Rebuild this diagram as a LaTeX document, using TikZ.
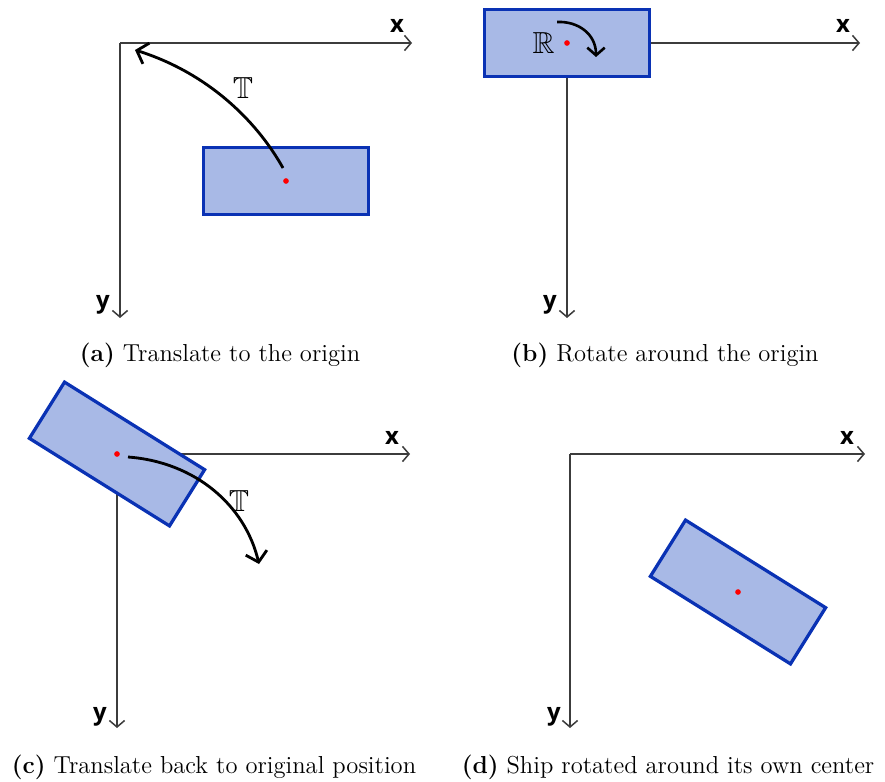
\documentclass[tikz,border=0pt]{standalone}
\usepackage{amsmath}
\usepackage{amssymb}
\usepackage{fontspec}
\setsansfont{Open Sans}
\usepackage{xcolor}
\usetikzlibrary{arrows.meta, positioning}
\definecolor{shipfill}{RGB}{168,185,230}
\definecolor{shipedge}{RGB}{10,50,180}
\definecolor{axisgray}{RGB}{60,60,60}

\begin{document}
\begin{tikzpicture}[x=0.46pt, y=-0.46pt,
    axis/.style={draw=axisgray, line width=0.7pt, -{Straight Barb[length=3pt, width=7pt]}},
    axlabel/.style={font=\sffamily\bfseries\fontsize{11}{13}\selectfont, inner sep=0pt},
    ship/.style={rectangle, draw=shipedge, fill=shipfill, line width=1.5pt, minimum width=76pt, minimum height=30.5pt, inner sep=0pt},
    pivot/.style={circle, fill=red, inner sep=0pt, minimum size=2.6pt},
    move/.style={draw=black, line width=1.3pt, -{Straight Barb[length=4.5pt, width=10pt]}},
    oplabel/.style={font=\fontsize{14}{16}\selectfont, inner sep=0pt},
    caption/.style={font=\fontsize{11.3}{13}\selectfont, inner sep=0pt}
]
    \useasboundingbox (0,0) rectangle (885,781);

    % (a) Translate to the origin
    \coordinate (OA) at (120,43);
    \coordinate (XA) at (412,43);
    \coordinate (YA) at (120,318);
    \draw[axis] (OA) -- (XA);
    \draw[axis] (OA) -- (YA);
    \node[axlabel] (LXA) at (397,26) {x};
    \node[axlabel] (LYA) at (103,305) {y};
    \node[ship] (SHIPA) at (286,181) {};
    \node[pivot] (CA) at (SHIPA.center) {};
    \coordinate (TA1) at (283,168);
    \coordinate (TA2) at (135,50);
    \draw[move] (TA1) .. controls (255,118) and (205,72) .. (TA2);
    \node[oplabel] (TLA) at (243,88) {$\mathbb{T}$};
    \node[caption] (CAPA) at (220,355) {\textbf{(a)} Translate to the origin};

    % (b) Rotate around the origin
    \coordinate (OB) at (567,43);
    \coordinate (XB) at (860,43);
    \coordinate (YB) at (567,318);
    \draw[axis] (OB) -- (XB);
    \draw[axis] (OB) -- (YB);
    \node[axlabel] (LXB) at (843,26) {x};
    \node[axlabel] (LYB) at (550,305) {y};
    \node[ship] (SHIPB) at (OB) {};
    \node[pivot] (CB) at (SHIPB.center) {};
    \node[oplabel, left=4pt of CB] (RLB) {$\mathbb{R}$};
    \coordinate (RB1) at (557,22);
    \coordinate (RB2) at (596,57);
    \draw[move, line width=1.2pt, -{Straight Barb[length=3.5pt, width=8pt]}] (RB1) .. controls (578,21) and (596,34) .. (RB2);
    \node[caption] (CAPB) at (665,355) {\textbf{(b)} Rotate around the origin};

    % (c) Translate back to original position
    \coordinate (OC) at (117,454);
    \coordinate (XC) at (410,454);
    \coordinate (YC) at (117,728);
    \draw[axis] (OC) -- (XC);
    \draw[axis] (OC) -- (YC);
    \node[axlabel] (LXC) at (392,438) {x};
    \node[axlabel] (LYC) at (100,717) {y};
    \node[ship, rotate=-32] (SHIPC) at (OC) {};
    \node[pivot] (CC) at (SHIPC.center) {};
    \coordinate (TC1) at (128,457);
    \coordinate (TC2) at (259,564);
    \draw[move] (TC1) .. controls (195,462) and (245,505) .. (TC2);
    \node[oplabel] (TLC) at (239,501) {$\mathbb{T}$};
    \node[caption] (CAPC) at (214,767) {\textbf{(c)} Translate back to original position};

    % (d) Ship rotated around its own center
    \coordinate (OD) at (570,454);
    \coordinate (XD) at (865,454);
    \coordinate (YD) at (570,728);
    \draw[axis] (OD) -- (XD);
    \draw[axis] (OD) -- (YD);
    \node[axlabel] (LXD) at (847,438) {x};
    \node[axlabel] (LYD) at (554,717) {y};
    \node[ship, rotate=-32] (SHIPD) at (738,592) {};
    \node[pivot] (CD) at (SHIPD.center) {};
    \node[caption] (CAPD) at (668,767) {\textbf{(d)} Ship rotated around its own center};
\end{tikzpicture}
\end{document}
